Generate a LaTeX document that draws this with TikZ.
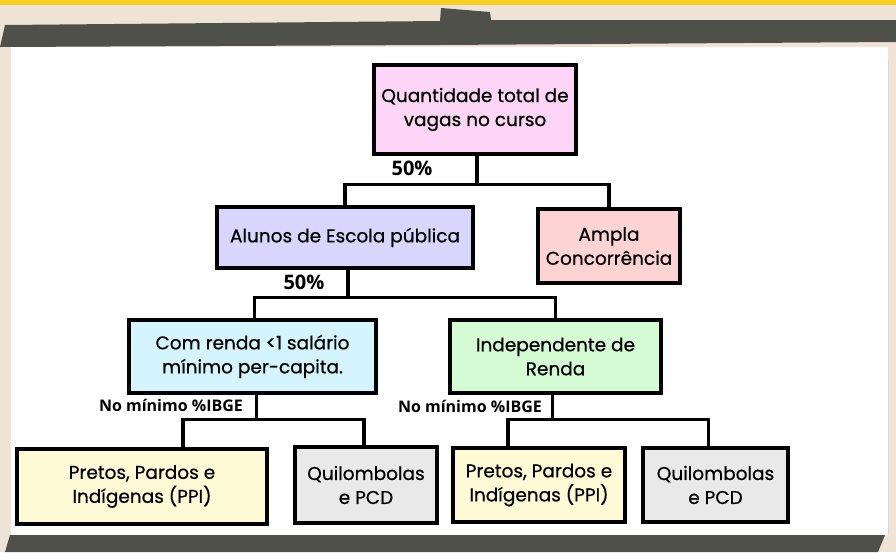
\documentclass[tikz,border=0pt]{standalone}
\usepackage{fontspec}
\setmainfont{Poppins}
\newfontfamily\boxfont{Poppins}[FakeBold=0.6]
\newfontfamily\labfont{Open Sans}
\usepackage{tikz}
\usetikzlibrary{positioning}
\definecolor{board}{HTML}{4F504A}
\definecolor{wall}{HTML}{EFE3D6}
\definecolor{band}{HTML}{F5D023}
\definecolor{cpink}{HTML}{FDD5F7}
\definecolor{clav}{HTML}{DAD5FC}
\definecolor{csal}{HTML}{FED3D3}
\definecolor{ccyan}{HTML}{D4F5FD}
\definecolor{cgreen}{HTML}{D4FBD4}
\definecolor{cyel}{HTML}{FFFAD6}
\definecolor{cgray}{HTML}{E9E9E9}
\tikzset{
  box/.style={draw=black, line width=4.5pt, align=center, inner sep=0pt,
    font=\boxfont\fontsize{18.5}{24}\selectfont},
  link/.style={draw=black, line width=3.2pt},
  pct/.style={font=\labfont\bfseries\fontsize{20}{22}\selectfont, inner sep=0pt},
  ibge/.style={font=\labfont\bfseries\fontsize{16}{18}\selectfont, inner sep=0pt}
}

\begin{document}
\begin{tikzpicture}[x=1pt,y=-1pt]
   \useasboundingbox (0,0) rectangle (896,552);
   % background and board
   \fill[wall] (0,0) rectangle (896,552);
   \fill[band] (0,0) rectangle (896,5);
   \fill[board] (0,47) -- (5,25) -- (440,21) -- (441,8) -- (490,12) -- (491,20)
      -- (896,20) -- (896,42) -- (440,45) -- cycle;
   \fill[white] (11,47) rectangle (888,535);
   \draw[black!15, line width=1pt] (888,60) -- (888,535);
   \fill[board] (10,535) -- (885,535) -- (878,552) -- (5,552)
      .. controls (7,545) .. (10,535) -- cycle;

   \node[box, fill=cpink, minimum width=202, minimum height=89] (total) at (475,109.5)
      {Quantidade total de\\vagas no curso};
   \node[box, fill=clav, minimum width=256, minimum height=61] (alunos) at (345,237.5)
      {Alunos de Escola pública};
   \node[box, fill=csal, minimum width=142, minimum height=74] (ampla) at (609,246)
      {Ampla\\Concorrência};
   \node[box, fill=ccyan, minimum width=247, minimum height=73] (renda) at (252.5,356.5)
      {Com renda <1 salário\\mínimo per-capita.};
   \node[box, fill=cgreen, minimum width=211, minimum height=73] (indep) at (555.5,356.5)
      {Independente de\\Renda};
   \node[box, fill=cyel, minimum width=250, minimum height=75] (ppiA) at (142,486.5)
      {Pretos, Pardos e\\Indígenas (PPI)};
   \node[box, fill=cgray, minimum width=142, minimum height=76] (quiA) at (366,485)
      {Quilombolas\\e PCD};
   \node[box, fill=cyel, minimum width=172, minimum height=74] (ppiB) at (539,485)
      {Pretos, Pardos e\\Indígenas (PPI)};
   \node[box, fill=cgray, minimum width=145, minimum height=74] (quiB) at (715.5,485)
      {Quilombolas\\e PCD};

   \node[pct] (pA) at (412,168) {50\%};
   \node[pct] (pB) at (304,282) {50\%};
   \node[ibge] (iA) at (171,405) {No mínimo \%IBGE};
   \node[ibge] (iB) at (470,406) {No mínimo \%IBGE};

   \draw[link] ([xshift=2pt]total.south) -- ++(0,28) coordinate (j1) -| (alunos.north);
   \draw[link] (j1) -| (ampla.north);
   \draw[link] ([xshift=3pt]alunos.south) -- ++(0,27) coordinate (j2) -| ([xshift=2pt]renda.north);
   \draw[link] (j2) -| (indep.north);
   \draw[link] ([xshift=4pt]renda.south) -- ++(0,24) coordinate (j3) -| ([xshift=41pt]ppiA.north);
   \draw[link] (j3) -| ([xshift=-2pt]quiA.north);
   \draw[link] ([xshift=-3pt]indep.south) -- ++(0,24) coordinate (j4) -| ([xshift=-31pt]ppiB.north);
   \draw[link] (j4) -| ([xshift=-7pt]quiB.north);
\end{tikzpicture}
\end{document}
